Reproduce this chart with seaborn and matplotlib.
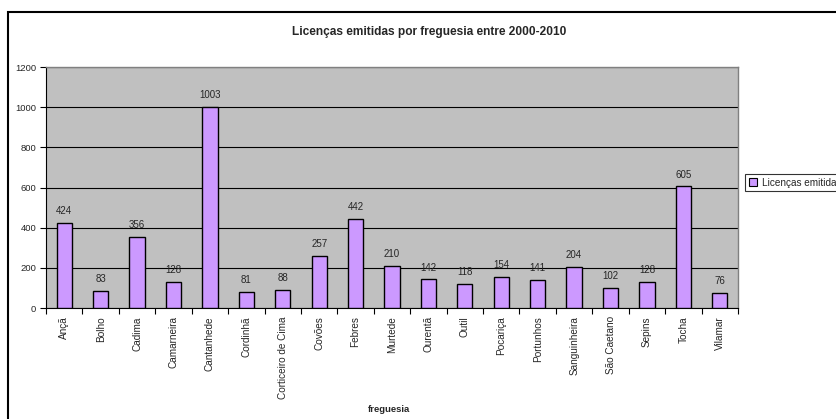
import matplotlib
matplotlib.use("Agg")
import matplotlib.pyplot as plt
from matplotlib.patches import Rectangle
import pandas as pd
import seaborn as sns

freguesias = ["Ançã", "Bolho", "Cadima", "Camarneira", "Cantanhede", "Cordinhã",
              "Corticeiro de Cima", "Covões", "Febres", "Murtede", "Ourentã", "Outil",
              "Pocariça", "Portunhos", "Sanguinheira", "São Caetano", "Sepins",
              "Tocha", "Vilamar"]
licencas = [424, 83, 356, 128, 1003, 81, 88, 257, 442, 210, 142, 118,
            154, 141, 204, 102, 128, 605, 76]
y_ticks = [0, 200, 400, 600, 800, 1000, 1200]
serie = "Licenças emitidas"

df = pd.DataFrame({"freguesia": freguesias, "valor": licencas})

sns.set_theme(style="white")
plt.rcParams["font.family"] = ["Liberation Sans", "DejaVu Sans"]

fig = plt.figure(figsize=(8.36, 4.19), dpi=100)
ax = fig.add_axes([46 / 836, 1 - 308 / 419, (738 - 46) / 836, (308 - 67) / 419])
ax.set_facecolor("#C0C0C0")

sns.barplot(data=df, x="freguesia", y="valor", ax=ax, color="#CC99FF",
            saturation=1, width=0.42, edgecolor="black", linewidth=1.0, zorder=3)

ax.set_ylim(0, 1200)
ax.set_xlim(-0.5, len(freguesias) - 0.5)
ax.set_yticks(y_ticks)
ax.set_yticklabels([str(v) for v in y_ticks], fontsize=6.8)
ax.yaxis.grid(True, color="black", linewidth=0.8, zorder=1)
ax.set_axisbelow(True)

ax.set_xticks(range(len(freguesias)))
ax.set_xticklabels(freguesias, rotation=90, fontsize=7.2)
ax.tick_params(axis="x", length=0, pad=6)
ax.set_xticks([i - 0.5 for i in range(len(freguesias) + 1)], minor=True)
ax.tick_params(axis="x", which="minor", length=4, width=0.8, color="black", direction="out", bottom=True)
ax.tick_params(axis="y", length=4, width=0.8, color="black", direction="out", left=True, pad=3)

for side in ["top", "right"]:
    ax.spines[side].set_color("#808080")
    ax.spines[side].set_linewidth(1.0)
for side in ["left", "bottom"]:
    ax.spines[side].set_color("black")
    ax.spines[side].set_linewidth(0.8)

for c in ax.containers:
    ax.bar_label(c, labels=[str(v) for v in licencas], fontsize=7, padding=5)

ax.set_ylabel("")
ax.set_xlabel("freguesia", fontsize=6.8, fontweight="bold")
ax.xaxis.set_label_coords(0.496, 1 - (405 - 67) / (308 - 67))

fig.text(429 / 836, 1 - 32 / 419, "Licenças emitidas por freguesia entre 2000-2010",
         ha="center", va="center", fontsize=8.6, fontweight="bold")

handle = Rectangle((0, 0), 1, 1, facecolor="#CC99FF", edgecolor="black", linewidth=0.8)
leg = fig.legend([handle], [serie], loc="upper left",
                 bbox_to_anchor=(745 / 836, 1 - 174 / 419), fontsize=7.2,
                 frameon=True, fancybox=False, handlelength=0.8, handleheight=0.8,
                 borderpad=0.35, handletextpad=0.5, borderaxespad=0)
leg.get_frame().set_edgecolor("black")
leg.get_frame().set_linewidth(0.8)

fig.add_artist(Rectangle((8 / 836, -0.2), 1.2, 1.2 - 12 / 419, transform=fig.transFigure,
                         fill=False, edgecolor="black", linewidth=1.5, zorder=10))

fig.savefig("out.png", dpi=100, facecolor="white")
